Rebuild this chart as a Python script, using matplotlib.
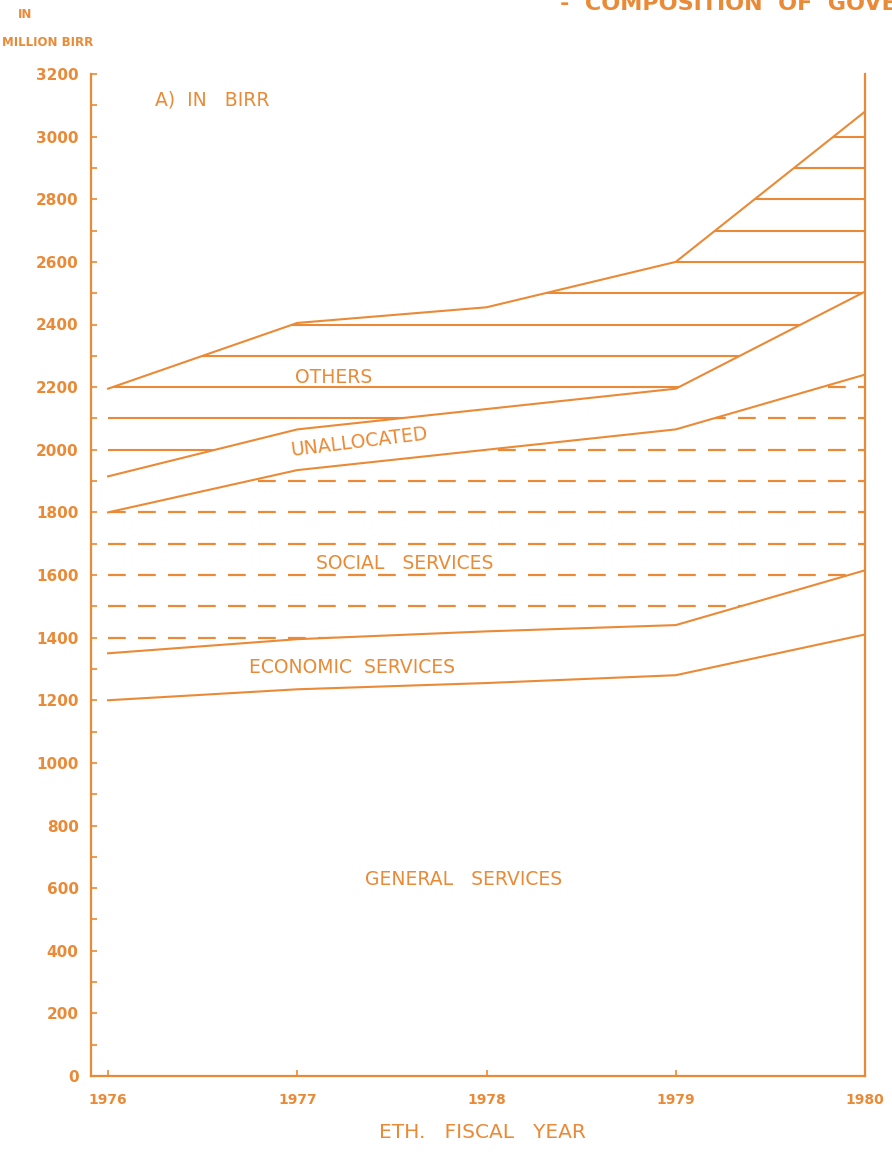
import matplotlib
matplotlib.use("Agg")
import matplotlib.pyplot as plt
import numpy as np
from matplotlib.patches import Polygon
from matplotlib.ticker import MultipleLocator

years = [1976, 1977, 1978, 1979, 1980]
general = [1200, 1235, 1255, 1280, 1410]
economic = [150, 160, 165, 160, 205]
social = [450, 540, 580, 625, 625]
unallocated = [115, 130, 130, 130, 265]
others = [280, 340, 325, 405, 575]
year_labels = ["1976", "1977", "1978", "1979", "1980"]
y_ticks = list(range(0, 3201, 200))

C = "#EA8A36"
plt.rcParams['font.family'] = ['DejaVu Sans']

fig = plt.figure(figsize=(8.92, 11.74), dpi=100)
ax = fig.add_axes([91/892, 1 - 1076/1174, (865-91)/892, (1076-74)/1174])

x = np.array(years, dtype=float)
b0 = np.array(general, dtype=float)
b1 = b0 + np.array(economic)
b2 = b1 + np.array(social)
b3 = b2 + np.array(unallocated)
b4 = b3 + np.array(others)

for b in (b0, b1, b2, b3, b4):
    ax.plot(x, b, color=C, lw=1.5, solid_joinstyle='miter')

def region(lo, hi):
    verts = list(zip(x, hi)) + list(zip(x[::-1], lo[::-1]))
    p = Polygon(verts, closed=True, transform=ax.transData, facecolor='none', edgecolor='none')
    ax.add_patch(p)
    return p

p_soc = region(b1, b2)
soc_levels = list(range(1400, 2201, 100))
lc = ax.hlines(soc_levels, x[0], x[-1], colors=C, lw=1.6, linestyles=(0, (8.0, 5.5)))
lc.set_clip_path(p_soc)

p_oth = region(b3, b4)
oth_levels = list(range(2000, 3001, 100))
lc2 = ax.hlines(oth_levels, x[0], x[-1], colors=C, lw=1.5)
lc2.set_clip_path(p_oth)

ax.set_xlim(1975.91, 1980.0)
ax.set_ylim(0, 3200)
for s in ('left', 'bottom', 'right'):
    ax.spines[s].set_color(C)
    ax.spines[s].set_linewidth(1.6)
ax.spines['top'].set_visible(False)

ax.set_yticks(y_ticks)
ax.set_yticklabels([str(v) for v in y_ticks])
ax.yaxis.set_minor_locator(MultipleLocator(100))
ax.set_xticks(years)
ax.set_xticklabels(year_labels)
ax.tick_params(axis='both', which='both', direction='in', colors=C, length=4, width=1.2)
ax.tick_params(axis='y', labelsize=11, pad=9)
ax.tick_params(axis='x', labelsize=10, pad=12)
for t in ax.get_xticklabels() + ax.get_yticklabels():
    t.set_fontweight('bold')
    t.set_color(C)

fs = 13.5
ax.text(1976.25, 3117, "A)  IN   BIRR", color=C, fontsize=fs, ha='left', va='center')
ax.text(1977.19, 2232, "OTHERS", color=C, fontsize=fs, ha='center', va='center')
ax.text(1977.33, 2025, "UNALLOCATED", color=C, fontsize=fs, ha='center', va='center', rotation=7)
ax.text(1977.57, 1638, "SOCIAL   SERVICES", color=C, fontsize=fs, ha='center', va='center')
ax.text(1977.29, 1303, "ECONOMIC  SERVICES", color=C, fontsize=fs, ha='center', va='center')
ax.text(1977.88, 626, "GENERAL   SERVICES", color=C, fontsize=fs, ha='center', va='center')

fig.text(482/892, 1 - 1132/1174, "ETH.   FISCAL   YEAR", color=C, fontsize=14.5, ha='center', va='center')
fig.text(25/892, 1 - 14/1174, "IN", color=C, fontsize=8.5, fontweight='bold', ha='center', va='center')
fig.text(48/892, 1 - 43/1174, "MILLION BIRR", color=C, fontsize=8.5, fontweight='bold', ha='center', va='center')
fig.text(560/892, 1 - 10/1174, "-  COMPOSITION  OF  GOVERNMENT  EXPENDITURE", color=C, fontsize=16,
         fontweight='bold', ha='left', va='baseline')

fig.savefig("out.png", dpi=100, facecolor='white')
